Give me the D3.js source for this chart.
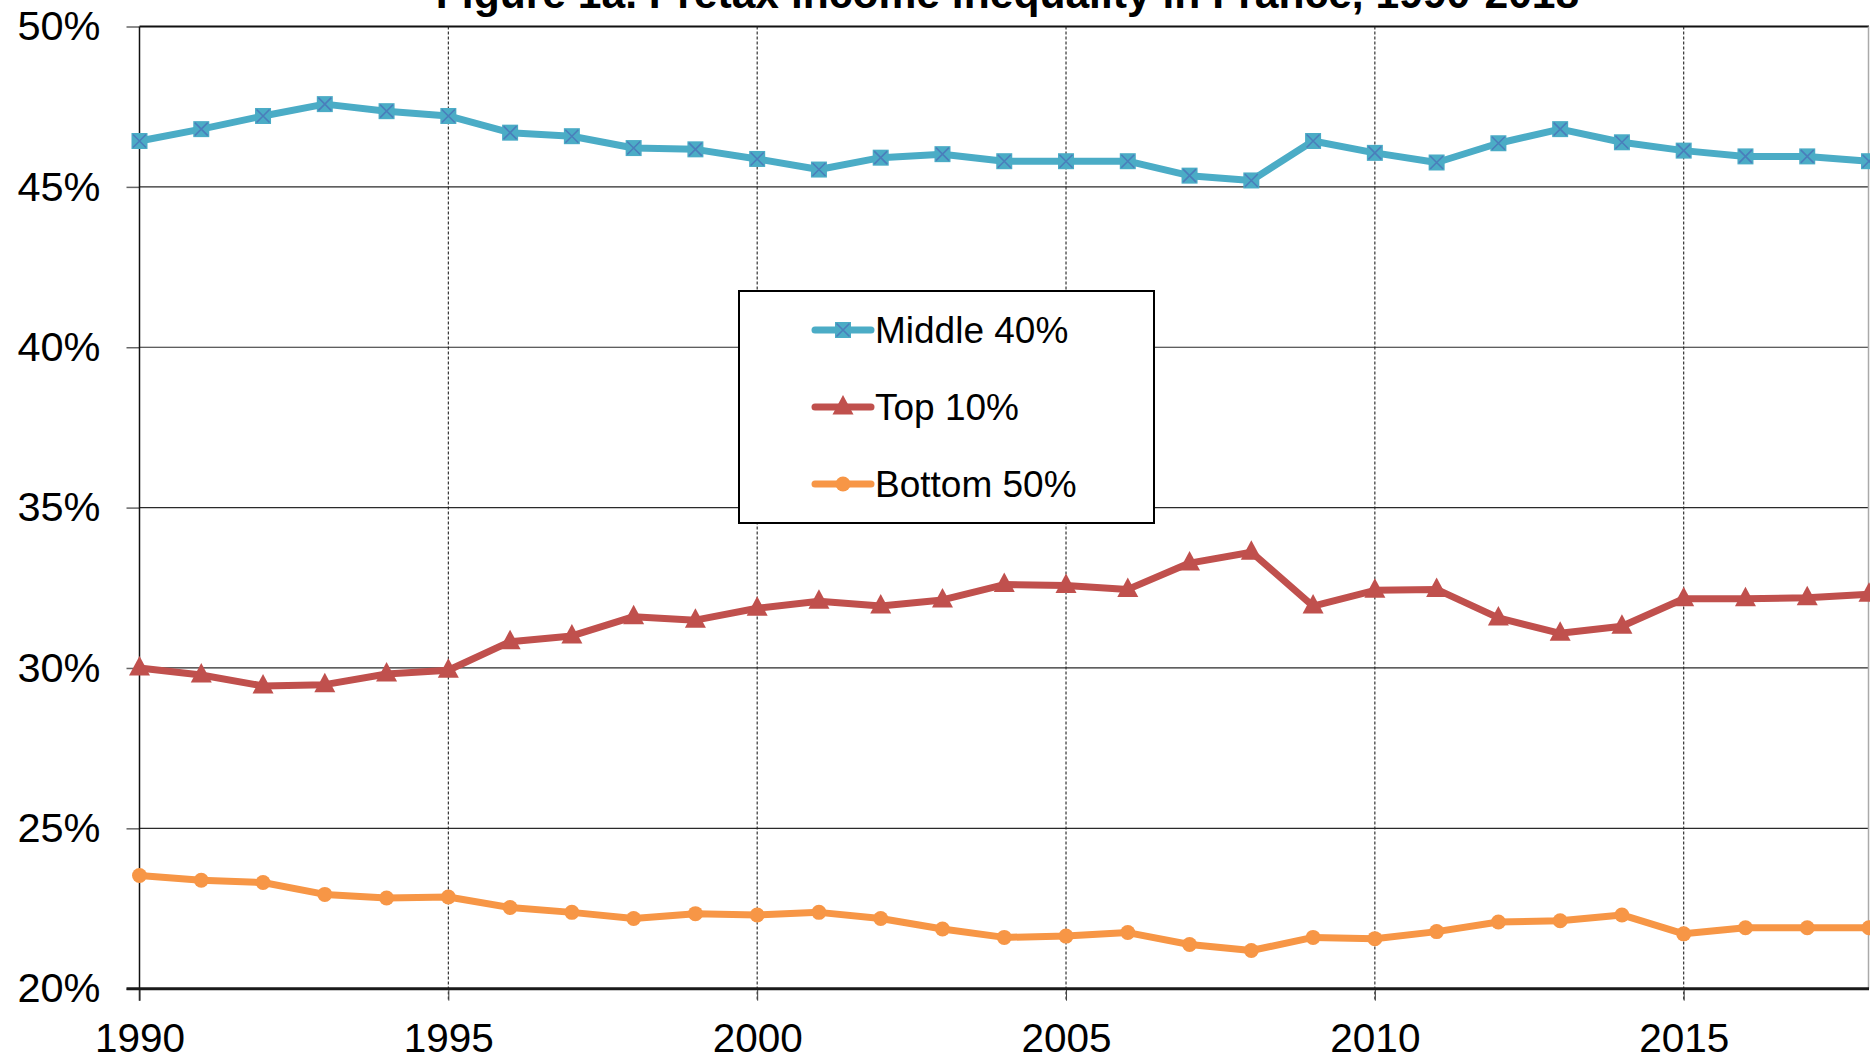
<!DOCTYPE html>
<html><head><meta charset="utf-8">
<script src="https://cdn.jsdelivr.net/npm/d3@7"></script>
<style>
body{margin:0;background:#fff;overflow:hidden;}
text{font-family:"Liberation Sans",Arial,sans-serif;fill:#000;}
</style>
</head><body>
<svg id="chart" width="1870" height="1059"></svg>
<script>
// ---- data ----
const years = [1990,1991,1992,1993,1994,1995,1996,1997,1998,1999,2000,2001,2002,2003,2004,
               2005,2006,2007,2008,2009,2010,2011,2012,2013,2014,2015,2016,2017,2018];
const middle40 = [46.43,46.80,47.21,47.58,47.36,47.21,46.69,46.58,46.21,46.17,45.87,45.54,45.91,46.02,45.80,
                  45.80,45.80,45.35,45.20,46.43,46.06,45.76,46.36,46.80,46.39,46.13,45.95,45.95,45.80];
const top10 = [30.00,29.78,29.44,29.48,29.81,29.93,30.82,31.00,31.60,31.49,31.86,32.08,31.93,32.12,32.60,
               32.57,32.45,33.27,33.61,31.93,32.42,32.45,31.56,31.08,31.30,32.16,32.16,32.19,32.30];
const bottom50 = [23.53,23.38,23.31,22.94,22.83,22.86,22.53,22.38,22.19,22.34,22.30,22.38,22.19,21.86,21.60,
                  21.64,21.75,21.38,21.19,21.60,21.56,21.78,22.08,22.12,22.30,21.71,21.90,21.90,21.90];
const seriesNames = ["Middle 40%","Top 10%","Bottom 50%"];
const yTicks = [20,25,30,35,40,45,50];
const xTicks = [1990,1995,2000,2005,2010,2015];
const title = "Figure 1a. Pretax income inequality in France, 1990-2018";

// ---- layout ----
const svg = d3.select("#chart");
const x = d3.scaleLinear().domain([1990,2018]).range([139.5,1869]);
const y = d3.scaleLinear().domain([20,50]).range([988.7,26.5]);
const colors = ["#4BACC6","#C0504D","#F79646"];

// horizontal gridlines
svg.append("g").selectAll("line").data(yTicks.filter(d=>d>20&&d<50)).join("line")
  .attr("x1",x(1990)).attr("x2",x(2018)).attr("y1",d=>y(d)).attr("y2",d=>y(d))
  .attr("stroke","#2a2a2a").attr("stroke-width",1.2);
// top border
svg.append("line").attr("x1",x(1990)).attr("x2",x(2018)).attr("y1",y(50)).attr("y2",y(50))
  .attr("stroke","#111").attr("stroke-width",2);
// vertical dashed gridlines
svg.append("g").selectAll("line").data(xTicks.filter(d=>d>1990)).join("line")
  .attr("x1",d=>x(d)).attr("x2",d=>x(d)).attr("y1",y(50)).attr("y2",y(20)+12)
  .attr("stroke","#222").attr("stroke-width",1.1).attr("stroke-dasharray","3,2");
// right edge
svg.append("line").attr("x1",x(2018)-0.5).attr("x2",x(2018)-0.5).attr("y1",y(50)).attr("y2",y(20))
  .attr("stroke","#aaa").attr("stroke-width",1.5);

// y axis
const yAxis = svg.append("g").attr("transform",`translate(${x(1990)},0)`)
  .call(d3.axisLeft(y).tickValues(yTicks).tickFormat(d=>d+"%").tickSize(13).tickPadding(26));
yAxis.select(".domain").remove();
yAxis.selectAll(".tick line").attr("stroke","#666").attr("stroke-width",1.5);
yAxis.selectAll(".tick text").attr("font-size",41.5).attr("font-family","Liberation Sans, Arial, sans-serif").attr("fill","#000");
svg.append("line").attr("x1",x(1990)).attr("x2",x(1990)).attr("y1",y(50)).attr("y2",y(20)+12)
  .attr("stroke","#111").attr("stroke-width",1.5);

// x axis
const xAxis = svg.append("g").attr("transform",`translate(0,${y(20)})`)
  .call(d3.axisBottom(x).tickValues(xTicks).tickFormat(d3.format("d")).tickSize(12).tickPadding(23));
xAxis.select(".domain").remove();
xAxis.selectAll(".tick line").attr("stroke","#444").attr("stroke-width",1);
xAxis.selectAll(".tick text").attr("font-size",40.5).attr("font-family","Liberation Sans, Arial, sans-serif").attr("fill","#000");
svg.append("line").attr("x1",x(1990)-13).attr("x2",x(2018)).attr("y1",y(20)).attr("y2",y(20))
  .attr("stroke","#1a1a1a").attr("stroke-width",3);

// ---- series ----
const data = [middle40, top10, bottom50].map((vals,i)=>({name:seriesNames[i], color:colors[i], idx:i,
  pts: years.map((yr,j)=>({year:yr, v:vals[j]}))}));
const line = d3.line().x(d=>x(d.year)).y(d=>y(d.v));

function marker(g, idx, color){
  if(idx===0){
    g.append("rect").attr("x",-8).attr("y",-8).attr("width",16).attr("height",16).attr("fill",color);
    g.append("path").attr("d","M-6.5,-6.5L6.5,6.5M-6.5,6.5L6.5,-6.5").attr("stroke","#4a7ebb").attr("stroke-width",1.6);
  } else if(idx===1){
    g.append("path").attr("d","M0,-12L10.5,7.5L-10.5,7.5Z").attr("fill",color);
  } else {
    g.append("circle").attr("r",7.5).attr("fill",color);
  }
}

data.forEach(s=>{
  svg.append("path").datum(s.pts).attr("d",line).attr("fill","none")
    .attr("stroke",s.color).attr("stroke-width",7).attr("stroke-linejoin","round");
  s.pts.forEach(p=>{
    const g = svg.append("g").attr("transform",`translate(${x(p.year)},${y(p.v)})`);
    marker(g, s.idx, s.color);
  });
});

// ---- legend ----
const lg = svg.append("g");
lg.append("rect").attr("x",739).attr("y",291).attr("width",415).attr("height",232)
  .attr("fill","#fff").attr("stroke","#000").attr("stroke-width",2);
const rows = [330,407,484];
data.forEach((s,i)=>{
  lg.append("line").attr("x1",815).attr("x2",871).attr("y1",rows[i]).attr("y2",rows[i])
    .attr("stroke",s.color).attr("stroke-width",7).attr("stroke-linecap","round");
  const g = lg.append("g").attr("transform",`translate(843,${rows[i]})`);
  marker(g, i, s.color);
  lg.append("text").attr("x",875).attr("y",rows[i]+13).attr("font-size",37).text(s.name);
});

// ---- title (clipped at top as in the reference) ----
svg.append("text").attr("x",1007.5).attr("y",7.5).attr("text-anchor","middle")
  .attr("font-size",42.6).attr("font-weight","bold").text(title);
</script>
</body></html>
